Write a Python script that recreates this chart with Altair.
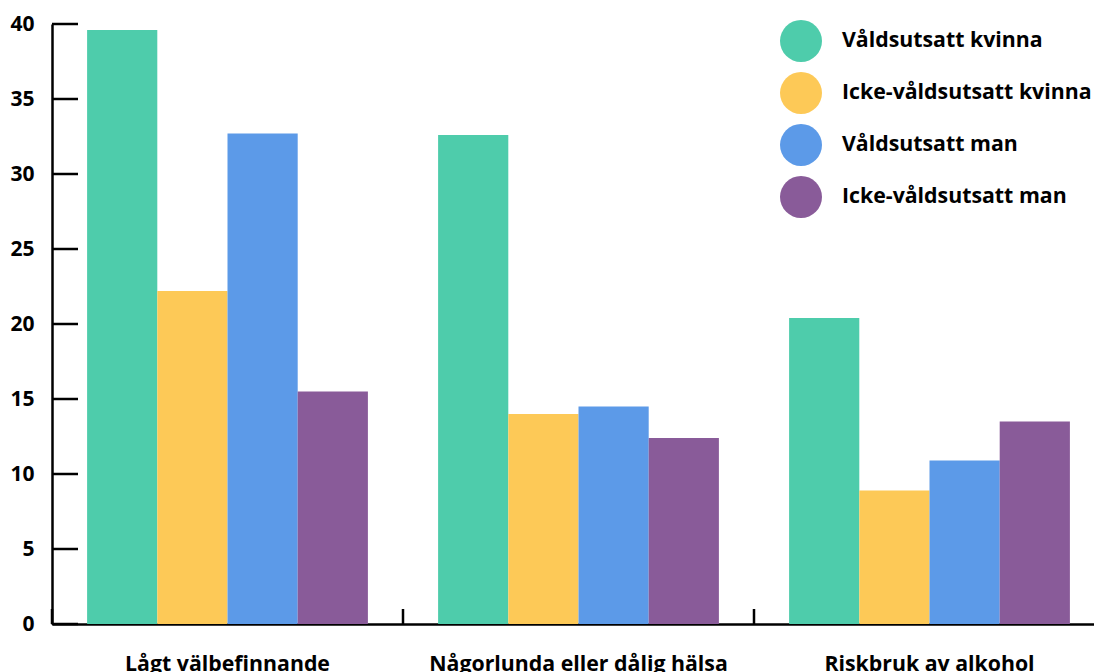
import altair as alt
import pandas as pd

# Outcome categories along the x axis
categories = ["Lågt välbefinnande", "Någorlunda eller dålig hälsa", "Riskbruk av alkohol"]

# Groups compared within each category
groups = ["Våldsutsatt kvinna", "Icke-våldsutsatt kvinna", "Våldsutsatt man", "Icke-våldsutsatt man"]
colors = ["#4ECCAB", "#FDC957", "#5C9AE8", "#895B99"]

# Percent per group, one list per category
values_lagt = [39.6, 22.2, 32.7, 15.5]
values_halsa = [32.6, 14.0, 14.5, 12.4]
values_alkohol = [20.4, 8.9, 10.9, 13.5]

# Y axis tick values
y_ticks = [0, 5, 10, 15, 20, 25, 30, 35, 40]

FONT = "Open Sans"
TEXT_SIZE = 21.3

rows = []
for cat, vals in zip(categories, [values_lagt, values_halsa, values_alkohol]):
    for g, v in zip(groups, vals):
        rows.append({"kategori": cat, "grupp": g, "andel": v})
df = pd.DataFrame(rows)

# The category bands run a little past the right edge of the view
x_scale = alt.Scale(domain=categories, range=[0, 1053], paddingInner=0, paddingOuter=0)
y_scale = alt.Scale(domain=[0, 40], nice=False, zero=True)

bars = alt.Chart(df).mark_bar().encode(
    x=alt.X(
        "kategori:N",
        scale=x_scale,
        sort=None,
        axis=alt.Axis(
            title=None,
            ticks=False,
            tickSize=0,
            labelAngle=0,
            labelFont=FONT,
            labelFontSize=TEXT_SIZE,
            labelFontWeight="bold",
            labelColor="black",
            labelPadding=29,
            labelLimit=600,
            labelOverlap=False,
            domainColor="black",
            domainWidth=2.5,
            grid=False,
        ),
    ),
    xOffset=alt.XOffset(
        "grupp:N",
        sort=groups,
        scale=alt.Scale(domain=groups, paddingInner=0, paddingOuter=0.5),
    ),
    y=alt.Y(
        "andel:Q",
        scale=y_scale,
        axis=alt.Axis(
            title=None,
            values=y_ticks,
            ticks=False,
            tickSize=0,
            labelFont=FONT,
            labelFontSize=21,
            labelFontWeight="bold",
            labelColor="black",
            labelPadding=18,
            domainColor="black",
            domainWidth=2.5,
            grid=False,
        ),
    ),
    color=alt.Color(
        "grupp:N",
        sort=groups,
        scale=alt.Scale(domain=groups, range=colors),
        legend=alt.Legend(
            title=None,
            orient="none",
            legendX=728,
            legendY=-4,
            padding=0,
            symbolType="circle",
            symbolSize=1764,
            symbolStrokeWidth=0,
            symbolOpacity=1,
            labelFont=FONT,
            labelFontSize=TEXT_SIZE,
            labelFontWeight="bold",
            labelColor="black",
            labelOffset=20,
            labelLimit=400,
            rowPadding=10,
        ),
    ),
)

# Inward tick marks on the y axis
y_tick_df = pd.DataFrame({"v": y_ticks})
y_tick_rules = alt.Chart(y_tick_df).mark_rule(color="black", strokeWidth=2.5).encode(
    y=alt.Y("v:Q", scale=y_scale),
    x=alt.value(0),
    x2=alt.value(26),
)

# Upward tick marks on the x axis at the start of each category band
x_tick_df = pd.DataFrame({"kategori": categories})
x_tick_rules = alt.Chart(x_tick_df).mark_rule(color="black", strokeWidth=2.5).encode(
    x=alt.X("kategori:N", scale=x_scale, sort=None, bandPosition=0),
    y=alt.value(585),
    y2=alt.value(600),
)

chart = (
    alt.layer(bars, y_tick_rules, x_tick_rules)
    .properties(
        width=1042,
        height=600,
        autosize=alt.AutoSizeParams(type="none"),
        padding={"left": 52, "top": 24, "right": 0, "bottom": 48},
    )
    .configure_view(stroke=None)
)

chart.save("out.html", embed_options={"renderer": "svg", "actions": False})
